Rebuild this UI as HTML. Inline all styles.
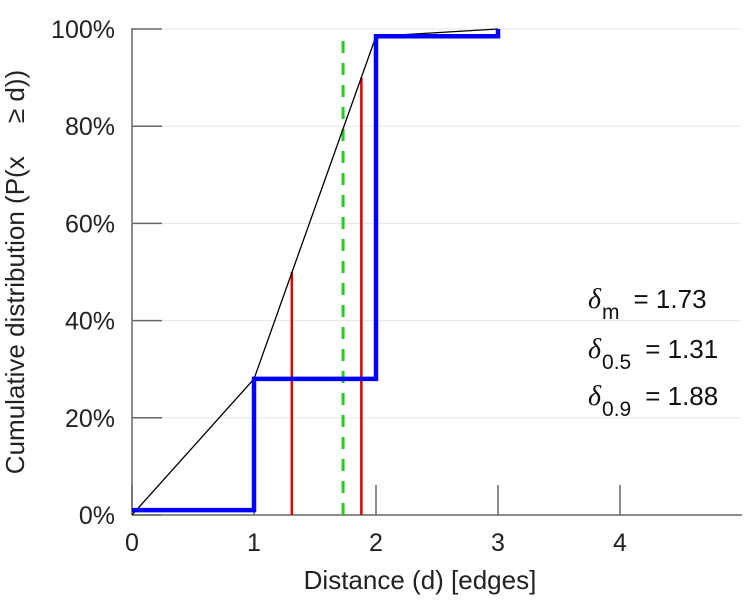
<!DOCTYPE html>
<html><head><meta charset="utf-8"><style>
body{margin:0;background:#fff}
svg{display:block;font-family:"Liberation Sans",sans-serif}
</style></head><body>
<svg id="chart" width="749" height="600" viewBox="0 0 749 600">
<g id="grid"></g>
<g id="axes"></g>
<g id="marks"></g>
<text x="420" y="589" font-size="26" text-anchor="middle" fill="#222">Distance (d) [edges]</text>
<text transform="translate(24,272) rotate(-90)" font-size="26" text-anchor="middle" fill="#222">Cumulative distribution (P(x  &#8197;&#8197;&#8197;&#8197;≥ d))</text>
<g font-size="26" fill="#111">
<text x="588" y="308"><tspan font-style="italic" font-family="Liberation Serif" font-size="28">δ</tspan><tspan dx="1" dy="11" font-size="21">m</tspan><tspan dx="14" dy="-11">= 1.73</tspan></text>
<text x="588" y="358"><tspan font-style="italic" font-family="Liberation Serif" font-size="28">δ</tspan><tspan dx="1" dy="11" font-size="21">0.5</tspan><tspan dx="14" dy="-11">= 1.31</tspan></text>
<text x="588" y="405"><tspan font-style="italic" font-family="Liberation Serif" font-size="28">δ</tspan><tspan dx="1" dy="11" font-size="21">0.9</tspan><tspan dx="14" dy="-11">= 1.88</tspan></text>
</g>
</svg>
<script>
const xTicks=[0,1,2,3,4];
const yTicks=[0,20,40,60,80,100];
const stepX=[0,1,1,2,2,3,3];
const stepY=[1,1,28,28,98.5,98.5,100];
const lineX=[0,1,2,3];
const lineY=[0,28,98.5,100];
const medianVal=[1.73];
const quantX=[1.31,1.88];
const quantY=[50,90];
const X0=132,XS=122,Y0=515,YS=4.86;
const sx=v=>X0+v*XS, sy=v=>Y0-v*YS;
const NS="http://www.w3.org/2000/svg";
function mk(tag,attrs,parent){const e=document.createElementNS(NS,tag);for(const k in attrs)e.setAttribute(k,attrs[k]);parent.appendChild(e);return e;}
const grid=document.getElementById('grid'),axes=document.getElementById('axes'),marks=document.getElementById('marks');
yTicks.forEach(t=>{
 const g=mk('line',{x1:X0,x2:741,y1:sy(t),y2:sy(t),stroke:'#e6e6e6','stroke-width':1},grid);
 
 
 const tk=mk('line',{x1:X0,x2:X0+30,y1:sy(t),y2:sy(t),stroke:'#666','stroke-width':1.5},axes);
 
 
 const lb=mk('text',{x:115,y:sy(t)+9,'font-size':25,'text-anchor':'end',fill:'#222'},axes);
 lb.textContent=t+'%';
 
 
});
xTicks.forEach(t=>{
 const tk=mk('line',{x1:sx(t),x2:sx(t),y1:Y0,y2:Y0-30,stroke:'#666','stroke-width':1.5},axes);
 
 
 const lb=mk('text',{x:sx(t),y:Y0+36,'font-size':25,'text-anchor':'middle',fill:'#222'},axes);
 lb.textContent=t;
 
 
});
const ya=mk('line',{x1:X0,x2:X0,y1:sy(100)-1,y2:Y0,stroke:'#666','stroke-width':1.5},axes);


const xa=mk('line',{x1:X0,x2:742,y1:Y0,y2:Y0,stroke:'#666','stroke-width':1.5},axes);


quantX.forEach((q,i)=>{
 const l=mk('line',{x1:sx(q),x2:sx(q),y1:Y0,y2:sy(quantY[i]),stroke:'#dd0000','stroke-width':2.5},marks);
 
 
});
const m=mk('line',{x1:sx(medianVal[0]),x2:sx(medianVal[0]),y1:Y0,y2:sy(99),stroke:'#22cc22','stroke-width':3,'stroke-dasharray':'12,10'},marks);


const bl=mk('polyline',{points:lineX.map((x,i)=>sx(x)+','+sy(lineY[i])).join(' '),fill:'none',stroke:'#000','stroke-width':1.3},marks);


const st=mk('polyline',{points:stepX.map((x,i)=>sx(x)+','+sy(stepY[i])).join(' '),fill:'none',stroke:'#0000ff','stroke-width':4.5},marks);


</script>
</body></html>
